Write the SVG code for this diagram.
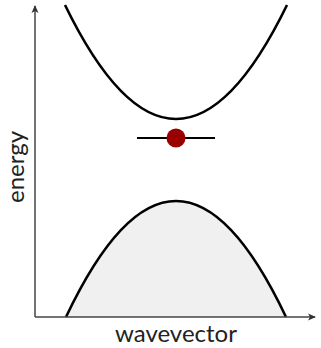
<svg xmlns="http://www.w3.org/2000/svg" width="321" height="348" viewBox="0 0 321 348">
<defs>
<marker id="arr" markerWidth="10" markerHeight="10" refX="8" refY="5" orient="auto" markerUnits="userSpaceOnUse">
<path d="M1,1.5 L9,5 L1,8.5 L3,5 Z" fill="#333"/>
</marker>
<style>
.band{fill:none;stroke:#000;stroke-width:2.6}
.axis{fill:none;stroke:#444;stroke-width:1.5}
.lbl{font-family:Lato,"Liberation Sans",sans-serif;font-size:24px;fill:#222}
</style>
</defs>
<rect width="321" height="348" fill="#fff"/>
<g id="valence-band">
<path d="M66,317 Q176,85 286,317 Z" fill="#f0f0f0" stroke="none"/>
<path class="band" d="M66,317 Q176,85 286,317"/>
</g>
<g id="conduction-band">
<path class="band" d="M65,5 Q176,233 287,5"/>
</g>
<g id="connectors">
<path class="axis" d="M35,317 L35,6" marker-end="url(#arr)"/>
<path class="axis" d="M35,317 L315,317" marker-end="url(#arr)"/>
</g>
<g id="exciton">
<line x1="137" y1="138" x2="215" y2="138" stroke="#000" stroke-width="2"/>
<circle cx="176" cy="138" r="9.5" fill="#990000"/>
</g>
<g id="labels">
<text class="lbl" x="176" y="342" text-anchor="middle">wavevector</text>
<text class="lbl" transform="translate(24,167) rotate(-90)" text-anchor="middle">energy</text>
</g>
</svg>
